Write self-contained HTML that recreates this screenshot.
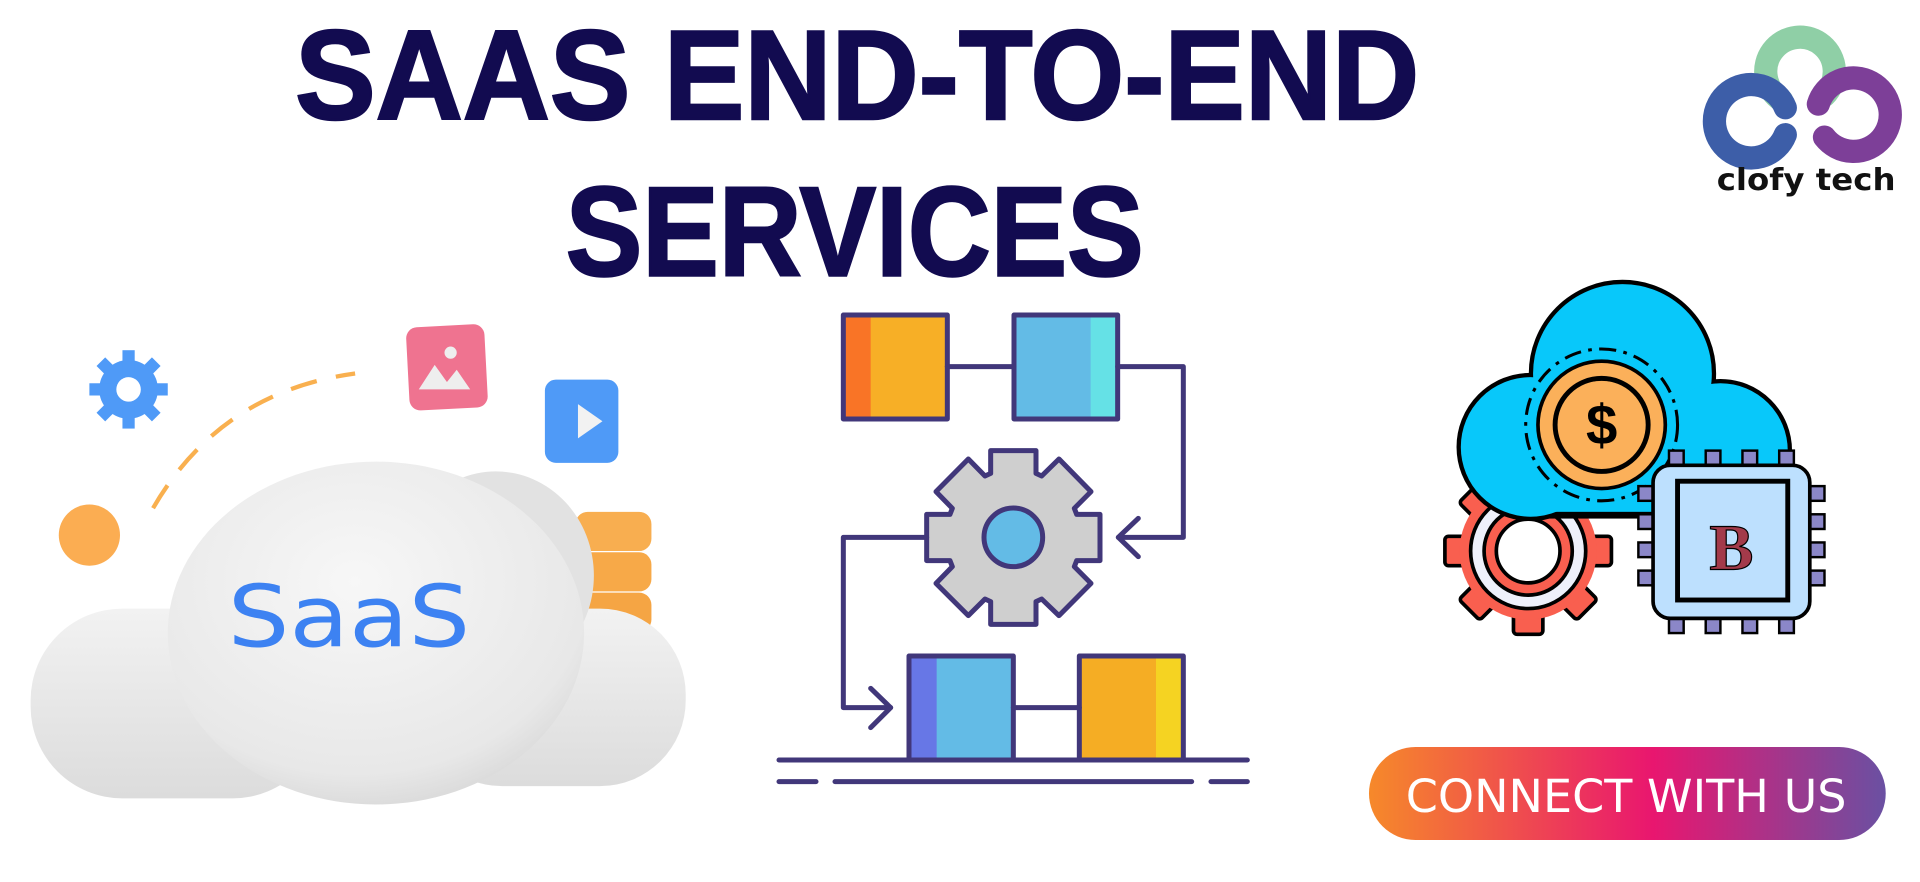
<!DOCTYPE html>
<html><head><meta charset="utf-8"><style>
html,body{margin:0;padding:0;background:#fff;width:1920px;height:882px;overflow:hidden}
svg{display:block}
</style></head><body>
<svg width="1920" height="882" viewBox="0 0 1920 882" xmlns="http://www.w3.org/2000/svg">
<defs>
<linearGradient id="btn" x1="0" x2="1" y1="0" y2="0">
<stop offset="0" stop-color="#f6892a"/><stop offset="0.55" stop-color="#e9166f"/><stop offset="1" stop-color="#6a50a2"/>
</linearGradient>
<radialGradient id="disk" cx="0.45" cy="0.35" r="0.7">
<stop offset="0" stop-color="#f7f7f7"/><stop offset="0.8" stop-color="#e8e8e8"/><stop offset="1" stop-color="#d6d6d6"/>
</radialGradient>
<linearGradient id="lump" x1="0" x2="0" y1="0" y2="1">
<stop offset="0" stop-color="#f2f2f2"/><stop offset="1" stop-color="#dcdcdc"/>
</linearGradient>
</defs>
<g transform="scale(1.22449)">
<!-- title -->
<text x="700" y="97" text-anchor="middle" font-family="Liberation Sans, sans-serif" font-weight="bold" font-size="104" fill="#120b50" stroke="#120b50" stroke-width="2" textLength="918" lengthAdjust="spacingAndGlyphs">SAAS END-TO-END</text>
<text x="698" y="225" text-anchor="middle" font-family="Liberation Sans, sans-serif" font-weight="bold" font-size="104" fill="#120b50" stroke="#120b50" stroke-width="2" textLength="472" lengthAdjust="spacingAndGlyphs">SERVICES</text>

<!-- left saas cloud -->
<path d="M125 415 Q180 320 290 305" fill="none" stroke="#f9b04f" stroke-width="3.5" stroke-dasharray="22 16"/>
<circle cx="73" cy="437" r="25" fill="#fbad52"/>
<g transform="translate(105,318)" fill="#4f9af7">
<circle r="24"/>
<g><rect x="-5" y="-32" width="10" height="64"/><rect x="-32" y="-5" width="64" height="10"/>
<rect x="-5" y="-32" width="10" height="64" transform="rotate(45)"/><rect x="-5" y="-32" width="10" height="64" transform="rotate(-45)"/></g>
<circle r="10" fill="#fff"/>
</g>
<rect x="333" y="266" width="64" height="68" rx="9" fill="#ef7390" transform="rotate(-3 365 300)"/>
<path d="M342 318 L355 298 L365 312 L373 302 L384 318 Z" fill="#eee"/>
<circle cx="368" cy="288" r="5" fill="#eee"/>
<rect x="445" y="310" width="60" height="68" rx="9" fill="#4f9af7"/>
<path d="M472 330 L492 344 L472 358 Z" fill="#f2f2f2"/>
<rect x="470" y="418" width="62" height="32" rx="10" fill="#f8ae50"/>
<rect x="470" y="451" width="62" height="32" rx="10" fill="#f7a948"/>
<rect x="470" y="484" width="62" height="32" rx="10" fill="#f5a544"/>
<rect x="25" y="497" width="240" height="155" rx="75" fill="url(#lump)"/>
<rect x="340" y="497" width="220" height="145" rx="70" fill="url(#lump)"/>
<ellipse cx="405" cy="470" rx="80" ry="85" fill="#e2e2e2"/>
<ellipse cx="307" cy="517" rx="170" ry="140" fill="url(#disk)"/>
<text x="285" y="528" text-anchor="middle" font-family="DejaVu Sans, sans-serif" font-size="70" fill="#3d82f2" textLength="198" lengthAdjust="spacingAndGlyphs">SaaS</text>

<!-- right illustration: red gear -->
<g transform="translate(1248,450)" fill="#f95f4f" stroke="#000" stroke-width="3">
<g>
<rect x="-12" y="-68" width="24" height="136" rx="3"/>
<rect x="-12" y="-68" width="24" height="136" rx="3" transform="rotate(45)"/>
<rect x="-12" y="-68" width="24" height="136" rx="3" transform="rotate(90)"/>
<rect x="-12" y="-68" width="24" height="136" rx="3" transform="rotate(135)"/>
</g>
<circle r="56" stroke="none"/>
<circle r="47" fill="#eef0fb"/>
<circle r="36"/>
<circle r="26" fill="#fff"/>
</g>
<g stroke="#000" stroke-width="7">
<circle cx="1325" cy="305" r="73" fill="#08c8fa"/>
<circle cx="1250" cy="365" r="57" fill="#08c8fa"/>
<circle cx="1405" cy="368" r="55" fill="#08c8fa"/>
<rect x="1245" y="340" width="165" height="80" fill="#08c8fa"/>
</g>
<g fill="#08c8fa">
<circle cx="1325" cy="305" r="73"/>
<circle cx="1250" cy="365" r="57"/>
<circle cx="1405" cy="368" r="55"/>
<rect x="1245" y="340" width="165" height="78"/>
</g>
<circle cx="1308" cy="347" r="62" fill="none" stroke="#000" stroke-width="2.5" stroke-dasharray="14 6 3 6"/>
<circle cx="1308" cy="347" r="52" fill="#fbb05a" stroke="#000" stroke-width="3"/>
<circle cx="1308" cy="347" r="38" fill="#fbb05a" stroke="#000" stroke-width="4"/>
<text x="1308" y="363" text-anchor="middle" font-family="Liberation Sans, sans-serif" font-weight="bold" font-size="46" fill="#000">$</text>
<g fill="#8b87c8" stroke="#000" stroke-width="2">
<rect x="1363" y="368" width="12" height="14"/><rect x="1393" y="368" width="12" height="14"/><rect x="1423" y="368" width="12" height="14"/><rect x="1453" y="368" width="12" height="14"/>
<rect x="1363" y="503" width="12" height="14"/><rect x="1393" y="503" width="12" height="14"/><rect x="1423" y="503" width="12" height="14"/><rect x="1453" y="503" width="12" height="14"/>
<rect x="1338" y="397" width="14" height="12"/><rect x="1338" y="420" width="14" height="12"/><rect x="1338" y="443" width="14" height="12"/><rect x="1338" y="466" width="14" height="12"/>
<rect x="1476" y="397" width="14" height="12"/><rect x="1476" y="420" width="14" height="12"/><rect x="1476" y="443" width="14" height="12"/><rect x="1476" y="466" width="14" height="12"/>
</g>
<rect x="1350" y="380" width="128" height="125" rx="14" fill="#bde0fe" stroke="#000" stroke-width="3"/>
<rect x="1370" y="393" width="90" height="97" fill="#bde0fe" stroke="#000" stroke-width="4"/>
<text x="1414" y="465" text-anchor="middle" font-family="Liberation Serif, serif" font-weight="bold" font-size="54" fill="#a33a4a" stroke="#000" stroke-width="1">B</text>

<!-- logo -->
<g fill="none" stroke-width="19" stroke-linecap="round">
<path d="M1455 82 A28 28 0 1 1 1490 78" stroke="#8fcfa6"/>
<path d="M1458 88 A30 30 0 1 0 1458 110" stroke="#3d5ea8"/>
<path d="M1485 85 A30 30 0 1 1 1490 112" stroke="#7d3f98"/>
</g>
<text x="1475" y="155" text-anchor="middle" font-family="DejaVu Sans, sans-serif" font-weight="bold" font-size="25" fill="#111" textLength="146" lengthAdjust="spacingAndGlyphs">clofy tech</text>

<!-- button -->
<rect x="1118" y="610" width="422" height="76" rx="38" fill="url(#btn)"/>
<text x="1328" y="663" text-anchor="middle" font-family="DejaVu Sans, sans-serif" font-size="37" fill="#fff" textLength="360" lengthAdjust="spacingAndGlyphs">CONNECT WITH US</text>
</g>

<!-- middle diagram -->
<g transform="translate(740,290) scale(0.33333)" stroke="#41377a" stroke-width="15" stroke-linejoin="round" stroke-linecap="round">
<rect x="310" y="75" width="312" height="312" fill="#f7af26" stroke="none"/>
<rect x="310" y="75" width="82" height="312" fill="#f97426" stroke="none"/>
<rect x="310" y="75" width="312" height="312" fill="none"/>
<rect x="822" y="75" width="311" height="312" fill="#63bbe6" stroke="none"/>
<rect x="1052" y="75" width="81" height="312" fill="#65e1e6" stroke="none"/>
<rect x="822" y="75" width="311" height="312" fill="none"/>
<line x1="622" y1="230" x2="822" y2="230"/>
<polyline points="1133,230 1330,230 1330,742 1135,742" fill="none"/>
<polyline points="1195,685 1135,742 1195,800" fill="none"/>
<polygon points="752,482 888,482 888,550 905,558 957,507 1053,605 1003,655 1010,673 1080,673 1080,812 1010,812 1003,830 1053,880 957,977 905,927 888,935 888,1003 752,1003 752,935 735,927 685,977 588,880 637,830 630,812 560,812 560,673 630,673 637,655 588,605 685,507 735,558 752,550" fill="#cfcfcf"/>
<circle cx="820" cy="742" r="88" fill="#63bbe6"/>
<polyline points="560,742 310,742 310,1253 452,1253" fill="none"/>
<polyline points="392,1195 452,1253 392,1313" fill="none"/>
<rect x="507" y="1098" width="313" height="312" fill="#63bbe6" stroke="none"/>
<rect x="507" y="1098" width="83" height="312" fill="#6777e6" stroke="none"/>
<rect x="507" y="1098" width="313" height="312" fill="none"/>
<rect x="1018" y="1098" width="312" height="312" fill="#f5ad24" stroke="none"/>
<rect x="1248" y="1098" width="82" height="312" fill="#f5d322" stroke="none"/>
<rect x="1018" y="1098" width="312" height="312" fill="none"/>
<line x1="820" y1="1253" x2="1018" y2="1253"/>
<line x1="117" y1="1410" x2="1522" y2="1410"/>
<line x1="117" y1="1475" x2="228" y2="1475"/>
<line x1="285" y1="1475" x2="1355" y2="1475"/>
<line x1="1413" y1="1475" x2="1522" y2="1475"/>
</g>
</svg>
</body></html>
